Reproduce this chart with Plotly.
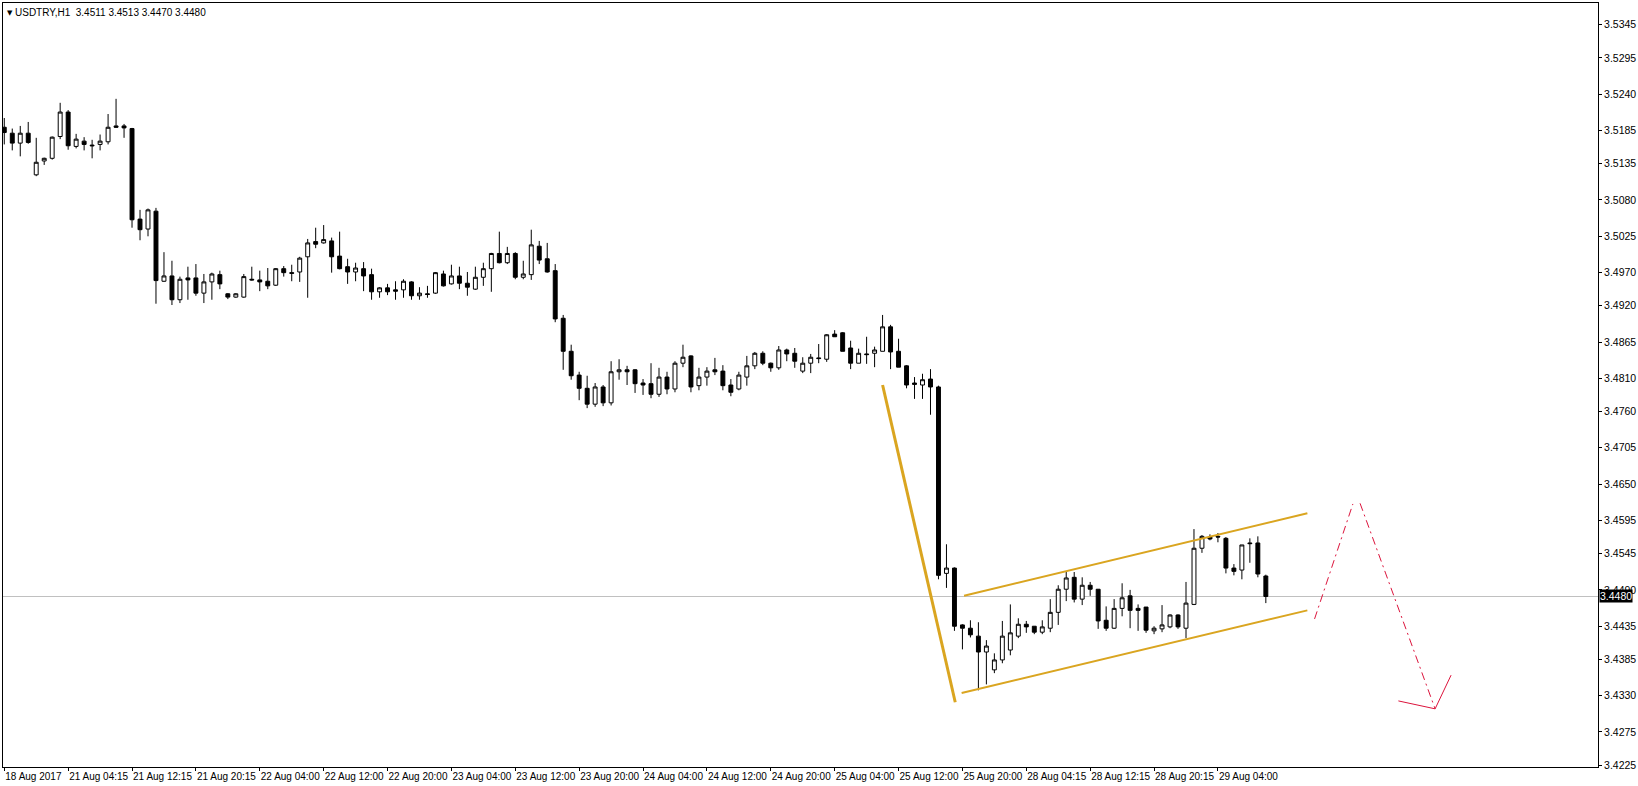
import plotly.graph_objects as go

# ---------------- data ----------------
open_ = [3.5190, 3.5181, 3.5166, 3.5181, 3.5118, 3.5139, 3.5143, 3.5176, 3.5213, 3.5161,
         3.5169, 3.5163, 3.5164, 3.5168, 3.5192, 3.5192, 3.5188, 3.5051, 3.5036, 3.5063,
         3.4957, 3.4965, 3.4929, 3.4962, 3.4962, 3.4939, 3.4956, 3.4967, 3.4938, 3.4933,
         3.4933, 3.4960, 3.4959, 3.4957, 3.4951, 3.4976, 3.4970, 3.4971, 3.4994, 3.5017,
         3.5015, 3.5018, 3.4995, 3.4979, 3.4971, 3.4976, 3.4967, 3.4941, 3.4947, 3.4944,
         3.4944, 3.4956, 3.4935, 3.4938, 3.4939, 3.4968, 3.4953, 3.4965, 3.4954, 3.4945,
         3.4963, 3.4976, 3.4999, 3.4985, 3.4999, 3.4963, 3.4967, 3.5010, 3.4991, 3.4973,
         3.4901, 3.4851, 3.4815, 3.4795, 3.4771, 3.4797, 3.4773, 3.4820, 3.4823, 3.4823,
         3.4803, 3.4802, 3.4786, 3.4812, 3.4794, 3.4833, 3.4844, 3.4799, 3.4812, 3.4823,
         3.4821, 3.4800, 3.4794, 3.4812, 3.4829, 3.4848, 3.4833, 3.4826, 3.4853, 3.4848,
         3.4821, 3.4833, 3.4841, 3.4839, 3.4877, 3.4879, 3.4856, 3.4833, 3.4847, 3.4848,
         3.4851, 3.4888, 3.4851, 3.4829, 3.4803, 3.4800, 3.4809, 3.4797, 3.4515, 3.4523,
         3.4437, 3.4432, 3.4420, 3.4396, 3.4369, 3.4384, 3.4399, 3.4420, 3.4438, 3.4435,
         3.4426, 3.4432, 3.4456, 3.4491, 3.4509, 3.4476, 3.4497, 3.4491, 3.4444, 3.4432,
         3.4462, 3.4481, 3.4462, 3.4464, 3.4428, 3.4431, 3.4434, 3.4452, 3.4432, 3.4468,
         3.4553, 3.4570, 3.4571, 3.4568, 3.4523, 3.4520, 3.4561, 3.4561, 3.4511]
high = [3.5204, 3.5188, 3.5192, 3.5198, 3.5174, 3.5144, 3.5176, 3.5227, 3.5216, 3.5180,
        3.5175, 3.5171, 3.5179, 3.5210, 3.5233, 3.5195, 3.5189, 3.5065, 3.5067, 3.5068,
        3.5001, 3.4988, 3.4964, 3.4979, 3.4983, 3.4968, 3.4970, 3.4973, 3.4939, 3.4939,
        3.4968, 3.4979, 3.4973, 3.4977, 3.4977, 3.4980, 3.4982, 3.4994, 3.5021, 3.5038,
        3.5042, 3.5023, 3.5032, 3.4991, 3.4985, 3.4986, 3.4976, 3.4948, 3.4953, 3.4957,
        3.4960, 3.4957, 3.4948, 3.4950, 3.4971, 3.4973, 3.4982, 3.4979, 3.4971, 3.4979,
        3.4985, 3.5000, 3.5032, 3.5009, 3.5001, 3.4988, 3.5035, 3.5018, 3.5015, 3.4983,
        3.4906, 3.4861, 3.4820, 3.4814, 3.4803, 3.4800, 3.4836, 3.4839, 3.4829, 3.4824,
        3.4809, 3.4833, 3.4826, 3.4820, 3.4836, 3.4861, 3.4845, 3.4826, 3.4827, 3.4841,
        3.4830, 3.4809, 3.4820, 3.4844, 3.4850, 3.4851, 3.4834, 3.4859, 3.4855, 3.4856,
        3.4842, 3.4847, 3.4862, 3.4877, 3.4883, 3.4880, 3.4867, 3.4855, 3.4873, 3.4858,
        3.4906, 3.4891, 3.4870, 3.4830, 3.4812, 3.4817, 3.4824, 3.4799, 3.4559, 3.4524,
        3.4438, 3.4444, 3.4441, 3.4414, 3.4394, 3.4443, 3.4468, 3.4447, 3.4443, 3.4435,
        3.4444, 3.4476, 3.4497, 3.4518, 3.4517, 3.4509, 3.4502, 3.4491, 3.4465, 3.4476,
        3.4500, 3.4490, 3.4468, 3.4464, 3.4435, 3.4467, 3.4453, 3.4453, 3.4502, 3.4582,
        3.4573, 3.4574, 3.4576, 3.4570, 3.4529, 3.4558, 3.4568, 3.4571, 3.4513]
low = [3.5164, 3.5155, 3.5146, 3.5165, 3.5116, 3.5133, 3.5141, 3.5172, 3.5156, 3.5158,
       3.5155, 3.5143, 3.5155, 3.5164, 3.5189, 3.5174, 3.5038, 3.5019, 3.5025, 3.4923,
       3.4956, 3.4921, 3.4924, 3.4929, 3.4935, 3.4924, 3.4929, 3.4945, 3.4930, 3.4932,
       3.4932, 3.4958, 3.4942, 3.4945, 3.4950, 3.4964, 3.4957, 3.4956, 3.4932, 3.5007,
       3.5014, 3.4970, 3.4975, 3.4953, 3.4957, 3.4942, 3.4929, 3.4932, 3.4936, 3.4929,
       3.4932, 3.4929, 3.4929, 3.4932, 3.4938, 3.4949, 3.4952, 3.4945, 3.4935, 3.4944,
       3.4950, 3.4941, 3.4984, 3.4983, 3.4960, 3.4960, 3.4959, 3.4983, 3.4970, 3.4895,
       3.4823, 3.4808, 3.4777, 3.4765, 3.4767, 3.4768, 3.4769, 3.4808, 3.4800, 3.4788,
       3.4785, 3.4780, 3.4782, 3.4786, 3.4789, 3.4827, 3.4789, 3.4792, 3.4799, 3.4815,
       3.4792, 3.4783, 3.4792, 3.4799, 3.4824, 3.4830, 3.4820, 3.4823, 3.4836, 3.4826,
       3.4818, 3.4818, 3.4833, 3.4835, 3.4873, 3.4851, 3.4824, 3.4833, 3.4832, 3.4827,
       3.4851, 3.4824, 3.4827, 3.4795, 3.4779, 3.4779, 3.4755, 3.4506, 3.4493, 3.4428,
       3.4400, 3.4418, 3.4338, 3.4347, 3.4364, 3.4379, 3.4391, 3.4417, 3.4425, 3.4423,
       3.4423, 3.4426, 3.4437, 3.4473, 3.4471, 3.4467, 3.4481, 3.4431, 3.4428, 3.4431,
       3.4450, 3.4432, 3.4428, 3.4425, 3.4423, 3.4426, 3.4432, 3.4431, 3.4417, 3.4467,
       3.4546, 3.4565, 3.4562, 3.4515, 3.4512, 3.4506, 3.4531, 3.4509, 3.4470]
close = [3.5182, 3.5166, 3.5181, 3.5167, 3.5137, 3.5143, 3.5175, 3.5213, 3.5162, 3.5172,
         3.5164, 3.5162, 3.5169, 3.5190, 3.5190, 3.5189, 3.5050, 3.5035, 3.5065, 3.4958,
         3.4965, 3.4929, 3.4960, 3.4959, 3.4939, 3.4956, 3.4968, 3.4953, 3.4933, 3.4938,
         3.4964, 3.4959, 3.4956, 3.4950, 3.4976, 3.4970, 3.4969, 3.4992, 3.5015, 3.5013,
         3.5020, 3.4994, 3.4976, 3.4971, 3.4977, 3.4965, 3.4941, 3.4947, 3.4941, 3.4942,
         3.4957, 3.4935, 3.4939, 3.4937, 3.4970, 3.4950, 3.4965, 3.4954, 3.4948, 3.4963,
         3.4976, 3.4999, 3.4985, 3.4999, 3.4963, 3.4968, 3.5012, 3.4989, 3.4971, 3.4900,
         3.4851, 3.4814, 3.4795, 3.4771, 3.4797, 3.4773, 3.4820, 3.4823, 3.4820, 3.4802,
         3.4800, 3.4786, 3.4812, 3.4794, 3.4833, 3.4842, 3.4797, 3.4812, 3.4821, 3.4820,
         3.4799, 3.4789, 3.4815, 3.4829, 3.4848, 3.4833, 3.4826, 3.4853, 3.4847, 3.4836,
         3.4833, 3.4842, 3.4840, 3.4876, 3.4873, 3.4851, 3.4833, 3.4848, 3.4846, 3.4853,
         3.4888, 3.4850, 3.4827, 3.4800, 3.4801, 3.4808, 3.4797, 3.4512, 3.4523, 3.4435,
         3.4432, 3.4422, 3.4396, 3.4405, 3.4384, 3.4420, 3.4425, 3.4438, 3.4434, 3.4426,
         3.4434, 3.4456, 3.4491, 3.4508, 3.4476, 3.4497, 3.4491, 3.4443, 3.4432, 3.4462,
         3.4478, 3.4459, 3.4459, 3.4429, 3.4432, 3.4437, 3.4452, 3.4434, 3.4470, 3.4553,
         3.4571, 3.4567, 3.4570, 3.4523, 3.4518, 3.4558, 3.4560, 3.4514, 3.4480]

bar_index = list(range(len(open_)))

x_tick_bars = [0, 8, 16, 24, 32, 40, 48, 56, 64, 72, 80, 88, 96, 104, 112, 120, 128, 136, 144, 152]
x_tick_labels = ["18 Aug 2017", "21 Aug 04:15", "21 Aug 12:15", "21 Aug 20:15", "22 Aug 04:00",
                 "22 Aug 12:00", "22 Aug 20:00", "23 Aug 04:00", "23 Aug 12:00", "23 Aug 20:00",
                 "24 Aug 04:00", "24 Aug 12:00", "24 Aug 20:00", "25 Aug 04:00", "25 Aug 12:00",
                 "25 Aug 20:00", "28 Aug 04:15", "28 Aug 12:15", "28 Aug 20:15", "29 Aug 04:00"]

y_ticks = [3.5345, 3.5295, 3.5240, 3.5185, 3.5135, 3.5080, 3.5025, 3.4970, 3.4920, 3.4865,
           3.4810, 3.4760, 3.4705, 3.4650, 3.4595, 3.4545, 3.4490, 3.4435, 3.4385, 3.4330,
           3.4275, 3.4225]

last_price = 3.4480
title_text = "USDTRY,H1\u00a0\u00a03.4511 3.4513 3.4470 3.4480"

# drawn objects (bar index, price)
steep_x = [110.0, 119.1]
steep_y = [3.4800, 3.4320]
chan_low_x = [119.9, 163.2]
chan_low_y = [3.4334, 3.4459]
chan_up_x = [120.2, 163.2]
chan_up_y = [3.4481, 3.4606]
proj_up_x = [164.1, 168.9]
proj_up_y = [3.4446, 3.4620]
proj_down_x = [169.8, 179.2]
proj_down_y = [3.4621, 3.4310]
arrow_x = [174.6, 179.2, 181.2]
arrow_y = [3.4322, 3.4310, 3.4361]

FONT = "Liberation Sans"
GOLD = "#DAA520"
RED = "#DC143C"

fig = go.Figure()

fig.add_trace(go.Candlestick(
    x=bar_index, open=open_, high=high, low=low, close=close,
    increasing=dict(line=dict(color="black", width=1), fillcolor="white"),
    decreasing=dict(line=dict(color="black", width=1), fillcolor="black"),
    whiskerwidth=0, hoverinfo="skip", showlegend=False,
))

fig.add_trace(go.Scatter(x=steep_x, y=steep_y, mode="lines",
                         line=dict(color=GOLD, width=3), showlegend=False, hoverinfo="skip"))
fig.add_trace(go.Scatter(x=chan_low_x, y=chan_low_y, mode="lines",
                         line=dict(color=GOLD, width=2), showlegend=False, hoverinfo="skip"))
fig.add_trace(go.Scatter(x=chan_up_x, y=chan_up_y, mode="lines",
                         line=dict(color=GOLD, width=2), showlegend=False, hoverinfo="skip"))
fig.add_trace(go.Scatter(x=proj_up_x, y=proj_up_y, mode="lines",
                         line=dict(color=RED, width=1, dash="8px,4px,2px,4px"),
                         showlegend=False, hoverinfo="skip"))
fig.add_trace(go.Scatter(x=proj_down_x, y=proj_down_y, mode="lines",
                         line=dict(color=RED, width=1, dash="8px,4px,2px,4px"),
                         showlegend=False, hoverinfo="skip"))
fig.add_trace(go.Scatter(x=arrow_x, y=arrow_y, mode="lines",
                         line=dict(color=RED, width=1), showlegend=False, hoverinfo="skip"))

# current price line
fig.add_shape(type="line", xref="paper", x0=0, x1=1, yref="y", y0=last_price, y1=last_price,
              line=dict(color="#C0C0C0", width=1), layer="below")

fig.add_annotation(xref="paper", x=1, xanchor="left", xshift=1, yref="y", y=last_price,
                   yanchor="middle", text="3.4480", showarrow=False, bgcolor="black",
                   font=dict(family=FONT, size=10.5, color="white"), borderpad=0)

fig.add_annotation(xref="paper", x=0, xanchor="left", xshift=2, yref="paper", y=1,
                   yanchor="top", yshift=-4, text="\u25BC", showarrow=False,
                   font=dict(family="DejaVu Sans", size=7, color="black"))
fig.add_annotation(xref="paper", x=0, xanchor="left", xshift=10, yref="paper", y=1,
                   yanchor="top", yshift=-2, text=title_text, showarrow=False,
                   font=dict(family=FONT, size=10, color="black"))

fig.update_layout(
    width=1638, height=786,
    margin=dict(l=2, r=38, t=3, b=19, pad=0),
    paper_bgcolor="white", plot_bgcolor="white",
    showlegend=False,
    font=dict(family=FONT, size=10, color="black"),
    xaxis=dict(
        range=[-0.16, 199.6], rangeslider=dict(visible=False),
        tickmode="array", tickvals=x_tick_bars, ticktext=x_tick_labels,
        ticklabelposition="outside right", tickangle=0,
        ticks="outside", ticklen=3, tickcolor="black", tickwidth=1,
        showgrid=False, zeroline=False,
        showline=True, linecolor="black", linewidth=1, mirror=True,
        tickfont=dict(family=FONT, size=10, color="black"),
    ),
    yaxis=dict(
        range=[3.4222, 3.5378], side="right",
        tickmode="array", tickvals=y_ticks, ticktext=["%.4f" % v for v in y_ticks],
        ticks="outside", ticklen=3, tickcolor="black", tickwidth=1,
        showgrid=False, zeroline=False,
        showline=True, linecolor="black", linewidth=1, mirror=True,
        tickfont=dict(family=FONT, size=10.5, color="black"),
    ),
)

fig.write_html("out.html", config={"displayModeBar": False, "staticPlot": True})

# remove the default page margin so the 1638x786 figure fits the window exactly
with open("out.html", "r", encoding="utf-8") as fh:
    page = fh.read()
page = page.replace("<head>", "<head><style>html,body{margin:0;padding:0;overflow:hidden;}</style>", 1)
with open("out.html", "w", encoding="utf-8") as fh:
    fh.write(page)
